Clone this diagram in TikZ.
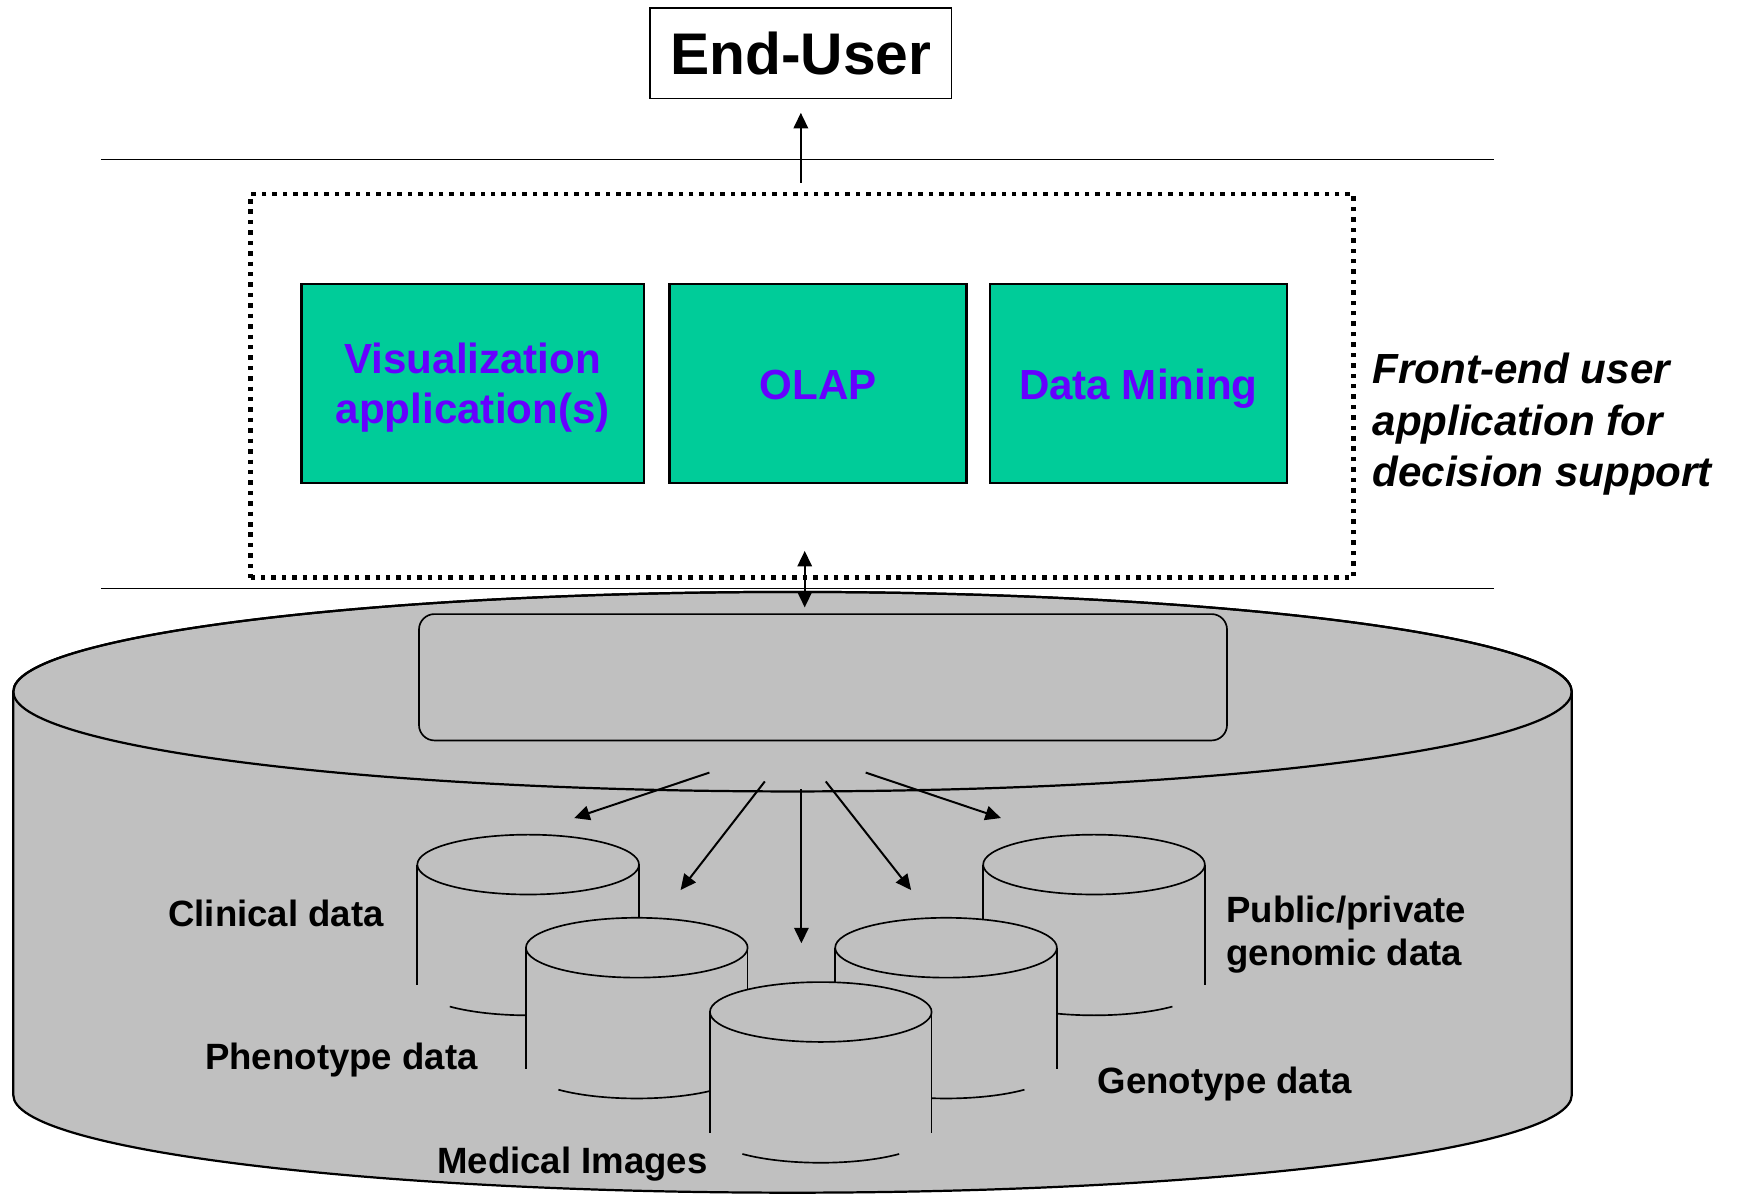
\documentclass[tikz,border=0pt]{standalone}
\usepackage{fontspec}
\setmainfont{Liberation Sans}
\usetikzlibrary{arrows.meta}
\definecolor{appgreen}{RGB}{0,204,153}
\definecolor{apppurple}{RGB}{102,0,255}
\definecolor{dbgray}{RGB}{192,192,192}

\tikzset{
  thinline/.style={line width=0.75pt},
  tipline/.style={-{Triangle[length=7pt,width=6.5pt]}, line width=0.9pt},
  bothline/.style={{Triangle[length=7pt,width=6.5pt]}-{Triangle[length=7pt,width=6.5pt]}, line width=0.9pt},
  appbox/.style={draw, line width=1pt, fill=appgreen, text=apppurple,
    font=\fontsize{19}{22.5}\selectfont\bfseries, align=center,
    minimum height=90pt, inner sep=0pt},
  dblabel/.style={font=\fontsize{16.5}{19.5}\selectfont\bfseries, inner sep=0pt, align=left},
  % small database cylinder, origin at the centre of its top ellipse
  dbcyl/.pic={
    \fill[dbgray] (-100,0) -- (-100,-109)
      arc[start angle=180,end angle=360,x radius=100,y radius=27]
      -- (100,0) arc[start angle=0,end angle=180,x radius=100,y radius=27] -- cycle;
    \draw[thinline] (-100,0) -- (-100,-109) (100,0) -- (100,-109);
    \draw[thinline] (0,0) ellipse[x radius=100,y radius=27];
    \draw[thinline] (0,-109) ++(225:100 and 27)
      arc[start angle=225,end angle=315,x radius=100,y radius=27];
  }
}

\begin{document}
\begin{tikzpicture}[x=0.5pt,y=0.5pt]
\useasboundingbox (0,0) rectangle (1568,-1078);

% layer separators
\coordinate (topL) at (91,-144);  \coordinate (topR) at (1348,-144);
\coordinate (midL) at (91,-531);  \coordinate (midR) at (1348,-531);
\draw[thinline] (topL) -- (topR);
\draw[thinline] (midL) -- (midR);

% end user
\node[draw, thinline, minimum width=136pt, minimum height=41pt, inner sep=0pt,
      font=\fontsize{26.5}{30}\selectfont\bfseries] (user) at (722.5,-48) {End-User};

% front-end applications
\node[draw, line width=2pt, dash pattern=on 2pt off 2.7pt,
      minimum width=497.5pt, minimum height=173pt] (frontend) at (723.5,-348) {};
\node[appbox, minimum width=154.5pt] (vis)  at (426.5,-346) {};
\node[appbox, minimum width=134pt]   (olap) at (738,-346) {};
\node[appbox, minimum width=134pt]   (mine) at (1027,-346) {};
\node[text=apppurple, font=\fontsize{19}{22.5}\selectfont\bfseries, align=center, inner sep=0pt]
  (visText) at (426.5,-349.5) {Visualization\\application(s)};
\node[text=apppurple, font=\fontsize{19}{22.5}\selectfont\bfseries, inner sep=0pt]
  (olapText) at (738,-347) {OLAP};
\node[text=apppurple, font=\fontsize{19}{22.5}\selectfont\bfseries, inner sep=0pt]
  (mineText) at (1027,-351) {Data Mining};
\node[anchor=west, align=left, inner sep=0pt,
      font=\fontsize{19}{23.25}\selectfont\bfseries\itshape] (feLabel) at (1238,-383)
      {Front-end user\\application for\\decision support};

% warehouse cylinder
\filldraw[fill=dbgray, line width=1pt] (12,-624) -- (12,-988)
  arc[start angle=180,end angle=360,x radius=703,y radius=88]
  -- (1418,-624) arc[start angle=0,end angle=180,x radius=703,y radius=90] -- cycle;
\draw[line width=1pt] (715,-624) ellipse[x radius=703,y radius=90];
\node[draw, thinline, rounded corners=7pt, minimum width=364.5pt, minimum height=57pt]
  (hub) at (742.5,-611) {};

% data sources
\pic (clin) at (476.5,-780) {dbcyl};
\pic (publ) at (987,-780) {dbcyl};
\pic (phen) at (574.5,-855) {dbcyl};
\pic (geno) at (853.5,-855) {dbcyl};
\pic (medi) at (740.5,-913) {dbcyl};

\node[dblabel] (clinLabel) at (249,-824) {Clinical data};
\node[dblabel] (phenLabel) at (308,-956) {Phenotype data};
\node[dblabel] (mediLabel) at (516.5,-1050.5) {Medical Images};
\node[dblabel] (genoLabel) at (1105,-978) {Genotype data};
\node[dblabel, anchor=west] (publLabel) at (1106,-843) {Public/private\\genomic data};

% connectors
\coordinate (upFrom) at (722.5,-165);
\draw[tipline] (upFrom) -- ([yshift=-6pt]user.south);
\coordinate (bdTop) at (726,-497); \coordinate (bdBot) at (726,-548);
\draw[bothline] (bdTop) -- (bdBot);

\coordinate (s1) at (640,-697); \coordinate (e1) at (518,-738);
\coordinate (s2) at (690,-705); \coordinate (e2) at (614,-803);
\coordinate (s3) at (723,-712); \coordinate (e3) at (723,-851);
\coordinate (s4) at (745,-705); \coordinate (e4) at (822,-803);
\coordinate (s5) at (781,-697); \coordinate (e5) at (903,-738);
\foreach \i in {1,...,5} \draw[tipline] (s\i) -- (e\i);
\end{tikzpicture}
\end{document}
